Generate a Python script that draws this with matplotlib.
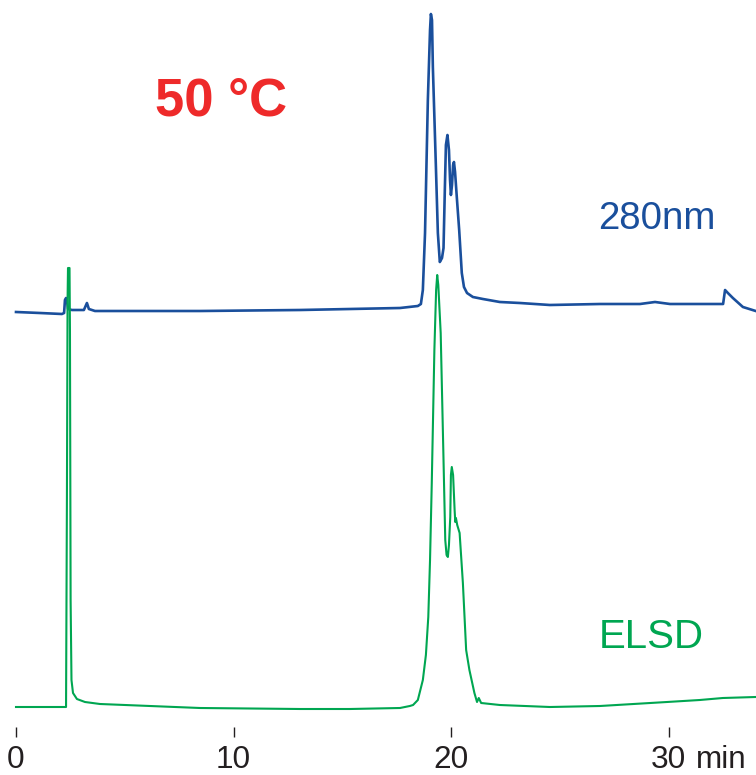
import matplotlib
matplotlib.use("Agg")
import matplotlib.pyplot as plt
import numpy as np

plt.rcParams['font.family'] = ['Liberation Sans', 'DejaVu Sans']

# retention time (min) and detector response (arbitrary units)
t_uv = [0.0, 1.10, 2.11, 2.21, 2.25, 2.30, 2.34, 2.39, 2.57, 3.12, 3.26, 3.35, 3.63,
        6.16, 8.46, 13.05, 17.65, 18.47, 18.61, 18.70, 18.80, 18.93, 19.03, 19.07,
        19.12, 19.16, 19.30, 19.39, 19.48, 19.58, 19.65, 19.71, 19.76, 19.83, 19.90,
        19.95, 19.99, 20.04, 20.09, 20.13, 20.18, 20.26, 20.37, 20.49, 20.59, 20.73,
        21.00, 21.46, 22.24, 23.16, 24.54, 26.84, 28.68, 29.37, 30.06, 32.50, 32.59,
        32.72, 32.95, 33.41, 34.0]
uv = [415, 414, 413, 414, 427, 429, 427, 418, 417, 417, 424, 418, 416,
      416, 416, 417, 419, 421, 423, 437, 494, 627, 697, 713,
      707, 660, 560, 494, 465, 469, 479, 537, 582, 592, 577,
      547, 532, 542, 562, 565, 555, 530, 497, 454, 440, 434,
      430, 428, 425, 424, 422, 423, 423, 425, 423, 423, 437,
      434, 429, 420, 416]

t_elsd = [0.0, 2.02, 2.30, 2.34, 2.37, 2.39, 2.46, 2.48, 2.51, 2.55, 2.62, 2.80,
          3.17, 3.86, 6.16, 8.46, 13.05, 15.35, 17.65, 18.10, 18.25, 18.47, 18.70,
          18.84, 18.95, 19.03, 19.11, 19.23, 19.31, 19.36, 19.41, 19.52, 19.64,
          19.73, 19.79, 19.85, 19.90, 19.96, 19.99, 20.03, 20.09, 20.16, 20.19,
          20.22, 20.28, 20.39, 20.54, 20.69, 20.84, 21.07, 21.19, 21.27, 21.38,
          22.24, 24.54, 26.84, 29.92, 31.43, 32.49, 34.0]
elsd = [20, 20, 20, 227, 427, 459, 459, 397, 127, 47, 34, 28,
        25, 23, 21, 19, 18, 18, 19, 21, 22, 27, 47,
        72, 110, 167, 244, 377, 437, 452, 442, 394, 277,
        187, 172, 170, 182, 210, 252, 260, 252, 217, 205,
        209, 202, 194, 144, 77, 57, 34, 25, 29, 24,
        22, 20, 21, 25, 27, 29, 30]

blue = '#1a4f9c'
green = '#00a651'
ink = '#231f20'

W, H = 756, 775
fig = plt.figure(figsize=(W / 100, H / 100), dpi=100)
ax = fig.add_axes([0, (H - 727) / H, 1, 727 / H])

ax.plot(t_uv, uv, color=blue, lw=1.9, solid_joinstyle='round')
ax.plot(t_elsd, elsd, color=green, lw=1.5, solid_joinstyle='round')

px_per_min = (668.7 - 16) / 30
ax.set_xlim(-16 / px_per_min, (W - 16) / px_per_min)
ax.set_ylim(0, 727)

for s in ax.spines.values():
    s.set_visible(False)
ax.set_yticks([])
ax.set_xticks([0, 10, 20, 30])
ax.set_xticklabels(['0', '10', '20', '30'])
ax.tick_params(axis='x', direction='out', length=7.2, width=1.0, color=ink,
               labelcolor=ink, labelsize=22.7, pad=5.5)

fig.text(696 / W, (H - 767.7) / H, 'min', fontsize=22.7, color=ink,
         ha='left', va='baseline')

fig.text(155 / W, (H - 115) / H, '50 °C', fontsize=37.9, fontweight='bold',
         color='#ee2a2a', ha='left', va='baseline')
fig.text(597.7 / W, (H - 229.3) / H, '280nm', fontsize=27.7, color=blue,
         ha='left', va='baseline')
fig.text(599 / W, (H - 648.3) / H, 'ELSD', fontsize=29, color=green,
         ha='left', va='baseline')

fig.savefig('out.png', dpi=100)
